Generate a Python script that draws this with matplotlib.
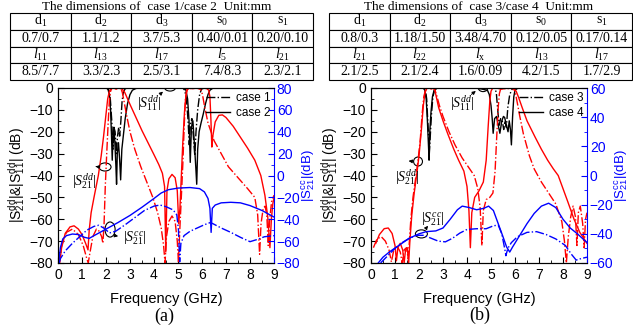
import matplotlib
matplotlib.use('Agg')
import matplotlib.pyplot as plt
from matplotlib.patches import Ellipse
from matplotlib.lines import Line2D
from matplotlib.ticker import MultipleLocator

plt.rcParams['font.family'] = ['Liberation Sans', 'DejaVu Sans']
plt.rcParams['mathtext.fontset'] = 'custom'
plt.rcParams['mathtext.rm'] = 'Liberation Serif'
plt.rcParams['mathtext.it'] = 'Liberation Serif:italic'
plt.rcParams['mathtext.sf'] = 'Liberation Sans'

RED = '#ff0000'
BLUE = '#0000ff'
LW = 1.0

# ---- tables ----
tab_a_title = 'The dimensions of  case 1/case 2  Unit:mm'
tab_a_names1 = [r'$\mathrm{d}_1$', r'$\mathrm{d}_2$', r'$\mathrm{d}_3$', r'$\mathrm{s}_0$', r'$\mathrm{s}_1$']
tab_a_vals1 = ['0.7/0.7', '1.1/1.2', '3.7/5.3', '0.40/0.01', '0.20/0.10']
tab_a_names2 = [r'$l_{11}$', r'$l_{13}$', r'$l_{17}$', r'$l_5$', r'$l_{21}$']
tab_a_vals2 = ['8.5/7.7', '3.3/2.3', '2.5/3.1', '7.4/8.3', '2.3/2.1']

tab_b_title = 'The dimensions of  case 3/case 4  Unit:mm'
tab_b_names1 = [r'$\mathrm{d}_1$', r'$\mathrm{d}_2$', r'$\mathrm{d}_3$', r'$\mathrm{s}_0$', r'$\mathrm{s}_1$']
tab_b_vals1 = ['0.8/0.3', '1.18/1.50', '3.48/4.70', '0.12/0.05', '0.17/0.14']
tab_b_names2 = [r'$l_{21}$', r'$l_{22}$', r'$l_\mathrm{x}$', r'$l_{13}$', r'$l_{17}$']
tab_b_vals2 = ['2.1/2.5', '2.1/2.4', '1.6/0.09', '4.2/1.5', '1.7/2.9']

# ---- panel (a): (GHz, dB) ----
a_s11_c1 = [(0, 0), (2.05, 0), (2.12, -1), (2.18, -5), (2.24, -15), (2.29, -28), (2.33, -18),
            (2.38, -20), (2.43, -30), (2.48, -22), (2.53, -18), (2.57, -22), (2.62, -15),
            (2.67, -6), (2.72, -2), (2.8, -0.3), (2.9, 0), (5.2, 0), (5.28, -1), (5.35, -5),
            (5.42, -15), (5.47, -26), (5.52, -16), (5.58, -14), (5.64, -22), (5.7, -31),
            (5.75, -20), (5.82, -10), (5.9, -3), (5.98, -0.5), (6.1, 0), (9, 0)]
a_s11_c2 = [(0, 0), (2.0, 0), (2.08, -0.5), (2.14, -3), (2.19, -10), (2.23, -22), (2.26, -33),
            (2.29, -22), (2.33, -18), (2.37, -25), (2.41, -35), (2.44, -44), (2.47, -30),
            (2.52, -25), (2.57, -33), (2.61, -42), (2.66, -28), (2.72, -22), (2.8, -14),
            (2.9, -7), (3.0, -3), (3.1, -1), (3.25, -0.2), (3.4, 0), (5.25, 0), (5.33, -1),
            (5.4, -5), (5.46, -15), (5.51, -34), (5.56, -18), (5.62, -15), (5.68, -25),
            (5.74, -36), (5.78, -44), (5.82, -28), (5.88, -20), (5.96, -16), (6.05, -12),
            (6.15, -7), (6.25, -3), (6.33, -1), (6.45, -0.1), (9, 0)]
a_s21_c1 = [(0.05, -80), (0.15, -72), (0.35, -66), (0.6, -64.5), (0.85, -67), (1.05, -72),
            (1.2, -78), (1.26, -80), (1.32, -76), (1.45, -68), (1.6, -64.5), (1.72, -65.5),
            (1.82, -68), (1.87, -71), (1.92, -62), (1.97, -45), (2.03, -30), (2.09, -16),
            (2.14, -6), (2.19, -1.5), (2.24, -0.2), (2.35, 0), (2.45, -0.4), (2.55, 0),
            (2.63, -0.5), (2.68, -2), (2.75, -6), (2.85, -12), (3.0, -20), (3.2, -28),
            (3.45, -36), (3.7, -43), (3.95, -50), (4.15, -57), (4.3, -64), (4.4, -72),
            (4.46, -80), (4.52, -68), (4.62, -61), (4.75, -58.5), (4.88, -61), (4.97, -70),
            (5.02, -80), (5.07, -66), (5.13, -52), (5.2, -35), (5.26, -17), (5.31, -5),
            (5.36, -1), (5.42, 0), (5.6, -0.4), (5.75, 0), (5.9, -0.3), (5.96, -1), (6.02, -3),
            (6.1, -8), (6.25, -16), (6.5, -24), (6.8, -30), (7.1, -36), (7.5, -41), (7.9, -46),
            (8.2, -50), (8.32, -58), (8.4, -76), (8.46, -62), (8.55, -55), (8.63, -54),
            (8.7, -58), (8.76, -72), (8.82, -60), (8.9, -52), (9.0, -49)]
a_s21_c2 = [(0.07, -80), (0.15, -73), (0.3, -66.5), (0.5, -63.5), (0.67, -63), (0.85, -64.5),
            (1.0, -67), (1.15, -71), (1.25, -74), (1.3, -65), (1.38, -57), (1.5, -50),
            (1.68, -40), (1.8, -31), (1.9, -22), (2.0, -12), (2.07, -5), (2.14, -1.5),
            (2.22, -0.2), (2.32, 0), (2.42, -0.5), (2.52, 0), (2.62, -0.3), (2.7, -0.8),
            (2.78, -2), (2.88, -4.5), (3.0, -7.5), (3.25, -13.5), (3.5, -19.5), (3.75, -25),
            (4.0, -30.5), (4.2, -35), (4.35, -39), (4.44, -45), (4.49, -75), (4.54, -47),
            (4.62, -41.5), (4.75, -39.5), (4.88, -41), (4.97, -47), (5.03, -62), (5.08, -55),
            (5.14, -40), (5.2, -25), (5.27, -11), (5.33, -3.5), (5.39, -0.8), (5.47, 0),
            (5.6, -0.3), (5.75, 0), (5.9, -0.4), (6.05, 0), (6.2, -0.3), (6.28, -1), (6.33, -4),
            (6.37, -14), (6.41, -27), (6.45, -22), (6.55, -15.5), (6.7, -12.5), (6.85, -12.3),
            (7.0, -13.5), (7.3, -17.5), (7.6, -22.5), (7.9, -27.5), (8.2, -33), (8.45, -40),
            (8.62, -49), (8.74, -59), (8.83, -73), (8.89, -60), (8.95, -53), (9.0, -50)]
a_cc_c1 = [(0.05, -80), (0.1, -76), (0.3, -69), (0.6, -62), (0.9, -56), (1.2, -50), (1.5, -46.5),
           (1.7, -45.5), (1.9, -48), (2.15, -52.5), (2.4, -51), (2.8, -45), (3.2, -38.5),
           (3.6, -32), (4.0, -28), (4.25, -27), (4.5, -28.5), (4.8, -31.5), (4.95, -36),
           (5.02, -50), (5.07, -79), (5.12, -62), (5.25, -55), (5.5, -51), (5.8, -48),
           (6.1, -45), (6.35, -43), (6.45, -44), (6.8, -48), (7.2, -52), (7.6, -56.5),
           (8.0, -60.5), (8.3, -58.5), (8.6, -56), (9.0, -55)]
a_cc_c2 = [(0.03, -79), (0.1, -66), (0.2, -58), (0.35, -55), (0.6, -53.5), (0.85, -54),
           (1.1, -56.5), (1.3, -57.5), (1.5, -55), (2.0, -49), (2.5, -43), (3.0, -36.5),
           (3.5, -29), (4.0, -21), (4.3, -16), (4.6, -13), (5.0, -11.5), (5.5, -11), (5.9, -12),
           (6.1, -15), (6.25, -21), (6.33, -30), (6.38, -52), (6.43, -30), (6.55, -27),
           (6.8, -25), (7.2, -24.5), (7.6, -25), (8.0, -27.5), (8.5, -32), (9.0, -38)]

# ---- panel (b) ----
b_s11_c3 = [(0, 0), (2.2, 0), (2.27, -1), (2.32, -5), (2.36, -14), (2.4, -22), (2.43, -30),
            (2.47, -22), (2.52, -12), (2.58, -4), (2.65, -1), (2.75, 0), (4.4, 0), (4.6, -0.4),
            (4.8, 0), (5.15, 0), (5.22, -2), (5.28, -10), (5.34, -17), (5.4, -14), (5.47, -15),
            (5.53, -19), (5.58, -15), (5.64, -18), (5.7, -9), (5.78, -3), (5.88, -0.5),
            (6.0, 0), (9, 0)]
b_s11_c4 = [(0, 0), (2.18, 0), (2.24, -1), (2.3, -5), (2.35, -15), (2.39, -25), (2.42, -33),
            (2.45, -20), (2.5, -11), (2.56, -4), (2.63, -1), (2.72, -0.2), (2.85, 0), (4.3, 0),
            (4.55, -0.3), (4.75, -0.8), (4.85, -1), (4.93, -3), (5.0, -8), (5.05, -14),
            (5.09, -20.7), (5.15, -14), (5.23, -13), (5.3, -17), (5.37, -20.7), (5.45, -15),
            (5.52, -13), (5.57, -13.5), (5.64, -17), (5.71, -20), (5.76, -15), (5.81, -19),
            (5.85, -26), (5.9, -13), (5.95, -4), (6.0, -1), (6.1, -0.2), (6.25, 0), (9, 0)]
b_s21_c3 = [(0.1, -73), (0.25, -69), (0.43, -68), (0.6, -70), (0.75, -74), (0.85, -79.5),
            (0.95, -74), (1.1, -72.5), (1.22, -75), (1.3, -80), (1.38, -74), (1.48, -73),
            (1.55, -78), (1.6, -70), (1.66, -60), (1.75, -50), (1.85, -42), (1.95, -34),
            (2.05, -24), (2.13, -12), (2.2, -4), (2.28, -0.5), (2.35, 0), (2.5, -0.3), (2.6, 0),
            (2.66, -0.8), (2.74, -3.5), (2.85, -8), (3.0, -13), (3.25, -20), (3.5, -26),
            (3.8, -32), (4.05, -36), (4.3, -40), (4.45, -46), (4.55, -55), (4.62, -72),
            (4.68, -56), (4.8, -51), (4.95, -50), (5.08, -48), (5.17, -38), (5.24, -22),
            (5.3, -9), (5.35, -2.5), (5.4, -0.5), (5.5, 0), (5.65, -0.5), (5.8, 0), (5.95, -0.4),
            (6.02, -2.5), (6.1, -7), (6.2, -13), (6.35, -21), (6.6, -31), (6.8, -37), (7.1, -43),
            (7.4, -48), (7.7, -53), (7.95, -61), (8.06, -70), (8.14, -80), (8.22, -68),
            (8.32, -59), (8.42, -54), (8.52, -59), (8.58, -72), (8.64, -57), (8.72, -54),
            (8.82, -62), (8.88, -73), (8.94, -60), (9.0, -57)]
b_s21_c4 = [(0.2, -71), (0.35, -67), (0.55, -64.3), (0.72, -64), (0.88, -66.5), (1.0, -72),
            (1.06, -79), (1.12, -73), (1.22, -71), (1.32, -74), (1.38, -80), (1.44, -74),
            (1.51, -73), (1.57, -80), (1.62, -70), (1.7, -58), (1.8, -48), (1.9, -40), (2.0, -31),
            (2.1, -19), (2.18, -8), (2.25, -2), (2.32, -0.3), (2.42, 0), (2.52, -0.4), (2.6, 0),
            (2.66, -1), (2.72, -4), (2.82, -9), (3.0, -15), (3.2, -21), (3.45, -28), (3.65, -33),
            (3.87, -38), (4.0, -45), (4.08, -56), (4.14, -73), (4.2, -57), (4.32, -50),
            (4.5, -47), (4.68, -43), (4.8, -33), (4.88, -18), (4.95, -6), (5.0, -1.5),
            (5.06, -0.2), (5.2, 0), (5.45, -0.5), (5.7, 0), (5.95, -0.3), (6.05, -1.5),
            (6.15, -4.3), (6.3, -9), (6.5, -15), (6.84, -22.5), (7.1, -28), (7.36, -33),
            (7.6, -37), (7.8, -40), (8.0, -46), (8.2, -52), (8.46, -60), (8.7, -66), (9.0, -71)]
b_cc_c3 = [(0.4, -60), (0.7, -55), (1.0, -50), (1.3, -46), (1.6, -43), (1.9, -41), (2.2, -41),
           (2.5, -43), (2.8, -45), (3.1, -45.5), (3.4, -43), (3.7, -39.5), (4.0, -37),
           (4.4, -36.5), (4.8, -36.5), (5.1, -34.5), (5.3, -34), (5.45, -40), (5.58, -51),
           (5.62, -55), (5.7, -50), (5.85, -46), (6.1, -42), (6.5, -39), (6.9, -38.5),
           (7.3, -40.5), (7.7, -43.5), (8.1, -48), (8.35, -54), (8.55, -58), (8.75, -57),
           (9.0, -56)]
b_cc_c4 = [(0.3, -60), (0.5, -56), (0.8, -52), (1.2, -47.5), (1.6, -43), (2.0, -40), (2.3, -38.5),
           (2.7, -38), (3.0, -36), (3.3, -30), (3.6, -23.5), (3.8, -21), (4.1, -22), (4.4, -23.5),
           (4.7, -22.5), (4.9, -21), (5.1, -24), (5.3, -33), (5.5, -42), (5.65, -49),
           (5.78, -52.5), (5.9, -49), (6.2, -41), (6.5, -33), (6.8, -26), (7.1, -21), (7.4, -19),
           (7.7, -22), (8.0, -30), (8.3, -36), (8.6, -40), (9.0, -46)]


def xy(pts):
    return [p[0] for p in pts], [p[1] for p in pts]


def draw_table(fig, rect, title, title_x, rows):
    ax = fig.add_axes(rect)
    ax.axis('off')
    tb = ax.table(cellText=rows, cellLoc='center', bbox=[0, 0, 1, 1])
    tb.auto_set_font_size(False)
    for cell in tb.get_celld().values():
        cell.set_linewidth(0.8)
        cell.get_text().set_fontfamily('Liberation Serif')
        cell.get_text().set_fontsize(10)
    fig.text(title_x, 1 - 7 / 333, title, family='Liberation Serif', fontsize=9.5,
             ha='center', va='center')


def setup_axes(ax, ax2, cc_lim):
    ax.set_xlim(0, 9)
    ax.set_ylim(-80, 0)
    ax.xaxis.set_major_locator(MultipleLocator(1))
    ax.xaxis.set_minor_locator(MultipleLocator(0.5))
    ax.yaxis.set_major_locator(MultipleLocator(10))
    ax.yaxis.set_minor_locator(MultipleLocator(5))
    ax.tick_params(which='both', direction='in', labelsize=10)
    ax.tick_params(which='major', length=4)
    ax.tick_params(which='minor', length=2)
    ax.spines['right'].set_visible(False)
    ax.set_xlabel('Frequency (GHz)', fontsize=10.5, labelpad=7)
    ax.set_ylabel(r'|$\mathsf{S}^{\mathsf{dd}}_{\mathsf{21}}$|&|$\mathsf{S}^{\mathsf{dd}}_{\mathsf{11}}$| (dB)',
                  fontsize=10, labelpad=1)

    ax2.set_ylim(-cc_lim, cc_lim)
    ax2.yaxis.set_major_locator(MultipleLocator(20))
    ax2.yaxis.set_minor_locator(MultipleLocator(10))
    ax2.tick_params(which='both', direction='in', colors=BLUE, labelsize=10, pad=2)
    ax2.tick_params(which='major', length=4)
    ax2.tick_params(which='minor', length=2)
    ax2.spines['right'].set_color(BLUE)
    ax2.set_ylabel(r'|$\mathsf{S}^{\mathsf{cc}}_{\mathsf{21}}$|(dB)', color=BLUE,
                   fontsize=9.5, labelpad=0)


def draw_curves(ax, ax2, s11, s21, cc):
    # dash-dot first case, solid second case
    for pts, ls in zip(s11, ['-.', '-']):
        ax.plot(*xy(pts), color='black', lw=LW, ls=ls)
    for pts, ls in zip(s21, ['-.', '-']):
        ax.plot(*xy(pts), color=RED, lw=LW, ls=ls)
    for pts, ls in zip(cc, ['-.', '-']):
        ax2.plot(*xy(pts), color=BLUE, lw=LW, ls=ls)


def mark(ax, center, w, h, tail, head):
    ax.add_patch(Ellipse(center, w, h, fill=False, color='black', lw=0.8))
    ax.annotate('', xy=head, xytext=tail,
                arrowprops=dict(arrowstyle='-|>', color='black', lw=0.7, mutation_scale=5))


def label(ax, pos, txt):
    ax.text(pos[0], pos[1], txt, fontsize=10, ha='center', va='center')


def add_legend(ax, names):
    ax.legend(handles=[Line2D([], [], color='black', ls='-.', lw=LW),
                       Line2D([], [], color='black', ls='-', lw=LW)],
              labels=names, loc='upper right', bbox_to_anchor=(1.0, 0.995),
              frameon=False, fontsize=8.5, handlelength=2.0, handletextpad=0.5,
              labelspacing=0.25, borderaxespad=0.1, borderpad=0.2)


fig = plt.figure(figsize=(6.33, 3.33), dpi=100)

draw_table(fig, [10 / 633, 253 / 333, 303 / 633, 67 / 333], tab_a_title, 157 / 633,
           [tab_a_names1, tab_a_vals1, tab_a_names2, tab_a_vals2])
draw_table(fig, [329 / 633, 253 / 333, 303 / 633, 67 / 333], tab_b_title, 479 / 633,
           [tab_b_names1, tab_b_vals1, tab_b_names2, tab_b_vals2])

# (a)
ax = fig.add_axes([58 / 633, 70 / 333, 216 / 633, 175 / 333])
ax2 = ax.twinx()
setup_axes(ax, ax2, 80)
draw_curves(ax, ax2, [a_s11_c1, a_s11_c2], [a_s21_c1, a_s21_c2], [a_cc_c1, a_cc_c2])
add_legend(ax, ['case 1', 'case 2'])
mark(ax, (4.67, 0.2), 0.46, 3.2, (4.17, -3.7), (4.46, -0.8))
label(ax, (3.79, -6.9), r'$|S^{dd}_{\mathit{11}}|$')
mark(ax, (1.96, -36.1), 0.5, 3.7, (1.71, -36.1), (1.45, -35.7))
label(ax, (1.1, -42.5), r'$|S^{dd}_{\mathit{21}}|$')
mark(ax, (2.17, -64.7), 0.42, 6.9, (2.29, -67.3), (2.62, -68.0))
label(ax, (3.2, -68.6), r'$|S^{cc}_{\mathit{21}}|$')
fig.text(164 / 633, 1 - 316 / 333, '(a)', family='Liberation Serif', fontsize=13,
         ha='center', va='center')

# (b)
bx = fig.add_axes([371 / 633, 70 / 333, 216 / 633, 175 / 333])
bx2 = bx.twinx()
setup_axes(bx, bx2, 60)
draw_curves(bx, bx2, [b_s11_c3, b_s11_c4], [b_s21_c3, b_s21_c4], [b_cc_c3, b_cc_c4])
add_legend(bx, ['case 3', 'case 4'])
mark(bx, (4.67, 0.2), 0.41, 3.7, (4.09, -3.7), (4.46, -0.6))
label(bx, (3.8, -6.9), r'$|S^{dd}_{\mathit{11}}|$')
mark(bx, (1.96, -33.6), 0.37, 4.1, (1.78, -33.6), (1.45, -33.2))
label(bx, (1.53, -40.7), r'$|S^{dd}_{\mathit{21}}|$')
mark(bx, (2.1, -66.7), 0.5, 3.7, (2.23, -65.0), (2.45, -62.0))
label(bx, (2.56, -59.8), r'$|S^{cc}_{\mathit{21}}|$')
fig.text(480 / 633, 1 - 315 / 333, '(b)', family='Liberation Serif', fontsize=13,
         ha='center', va='center')

fig.savefig('out.png', dpi=100)
